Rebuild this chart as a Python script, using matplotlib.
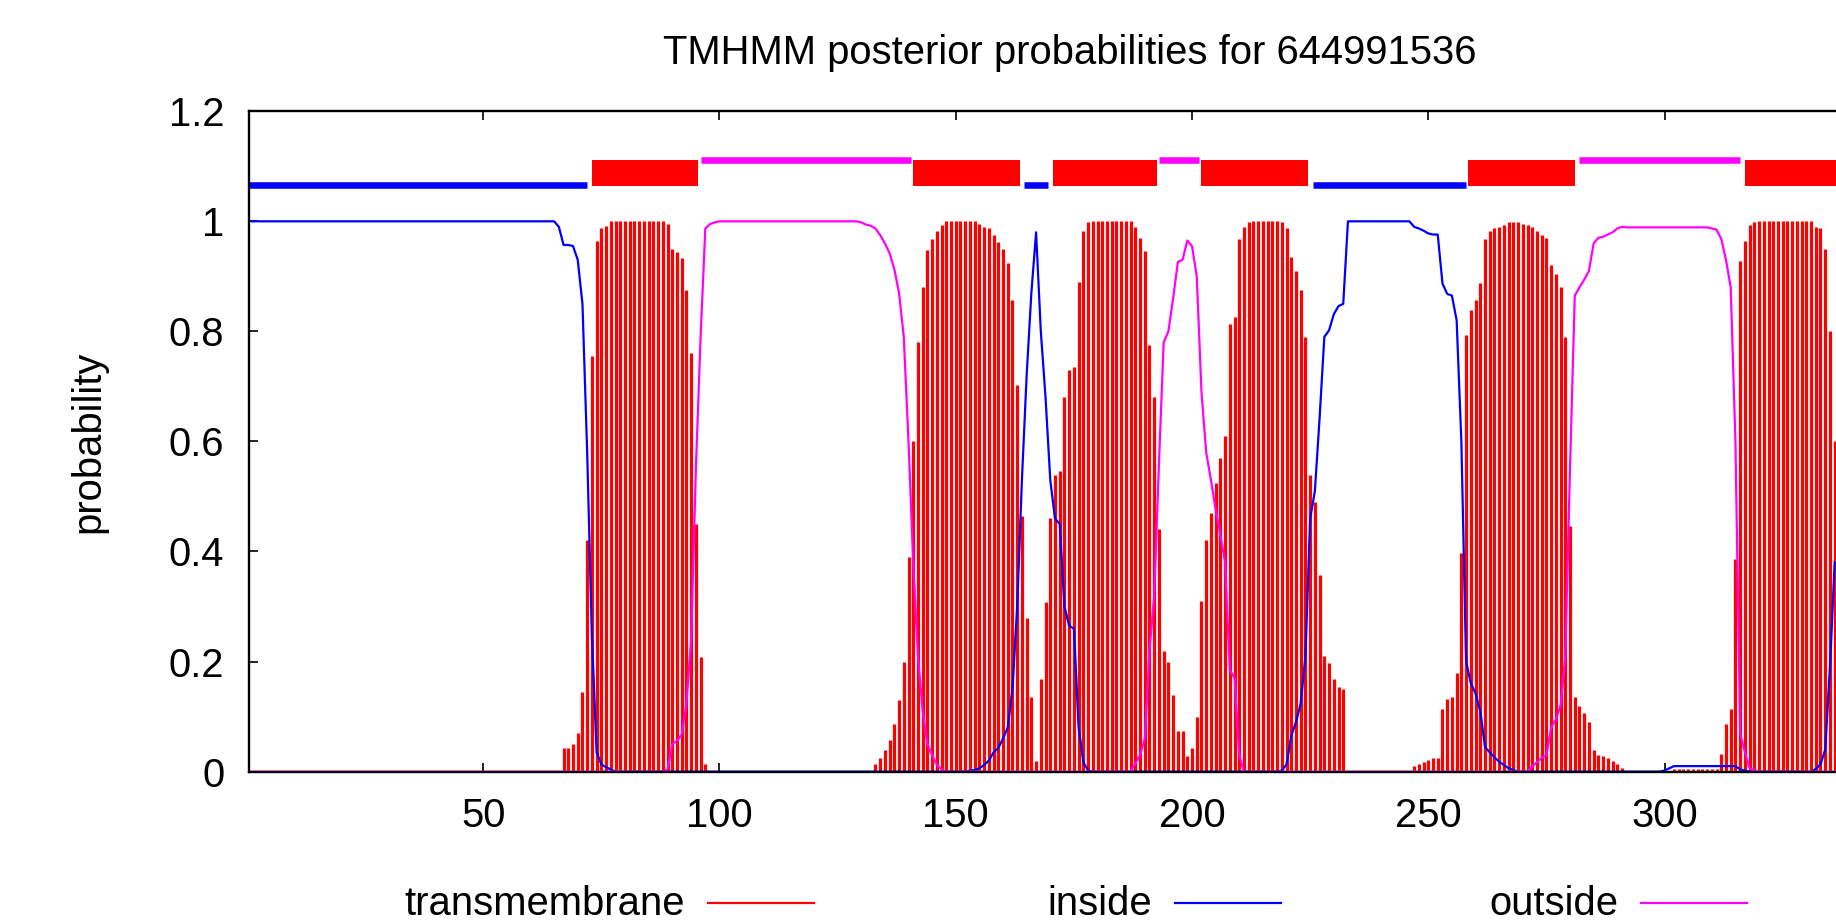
import numpy as np
import matplotlib
matplotlib.use("Agg")
from matplotlib import pyplot as plt
from matplotlib.lines import Line2D
from matplotlib.ticker import FormatStrFormatter

plt.rcParams['font.family'] = ['Liberation Sans', 'DejaVu Sans']

#################################################################################################################################

# Posterior probabilities per residue (1..336 are visible)
tm_prob = ([0.0] * 66
           + [0.043, 0.043, 0.05, 0.07, 0.145, 0.42, 0.755, 0.964, 0.987, 0.992]
           + [1.0] * 12
           + [0.996, 0.95, 0.944, 0.933, 0.876, 0.76, 0.45, 0.208, 0.013]
           + [0.0] * 35
           + [0.013, 0.025, 0.04, 0.058, 0.087, 0.13, 0.2, 0.39, 0.6, 0.78, 0.88, 0.947, 0.967, 0.982, 0.994]
           + [1.0] * 7
           + [0.995, 0.99, 0.987, 0.975, 0.962, 0.95, 0.924, 0.857, 0.702, 0.465, 0.28, 0.135, 0.02]
           + [0.169, 0.309, 0.461, 0.539, 0.546, 0.68, 0.73, 0.735, 0.89, 0.983, 0.998]
           + [1.0] * 9
           + [0.99, 0.97, 0.946, 0.776, 0.68, 0.44, 0.22, 0.2, 0.14, 0.073, 0.073, 0.028, 0.043]
           + [0.1, 0.31, 0.42, 0.47, 0.524, 0.57, 0.61, 0.813, 0.827, 0.968, 0.99, 0.998]
           + [1.0] * 6
           + [0.998, 0.987, 0.935, 0.909, 0.876, 0.79, 0.539, 0.49, 0.357, 0.21, 0.198, 0.169, 0.154, 0.15]
           + [0.0] * 14
           + [0.01, 0.013, 0.017, 0.022, 0.024, 0.024, 0.113, 0.132, 0.135, 0.18, 0.398, 0.794, 0.839, 0.857]
           + [0.887, 0.968, 0.983, 0.987, 0.99, 0.994, 0.998, 0.998, 0.998, 0.996, 0.994, 0.99, 0.983, 0.975,
              0.97, 0.92, 0.905, 0.88, 0.79, 0.446, 0.135, 0.12, 0.106, 0.09, 0.04, 0.03, 0.028, 0.024, 0.02,
              0.013, 0.007]
           + [0.0] * 10
           + [0.004] * 10
           + [0.032, 0.087, 0.113, 0.387, 0.927, 0.964, 0.994, 0.998]
           + [1.0] * 12
           + [0.99, 0.987, 0.95, 0.8, 0.6])

inside_prob = ([1.0] * 65
               + [0.99, 0.957, 0.957, 0.955, 0.93, 0.85, 0.58, 0.245, 0.035, 0.013, 0.008, 0.004]
               + [0.0] * 75
               + [0.002, 0.003, 0.006, 0.012, 0.02, 0.035, 0.043, 0.06, 0.08, 0.15, 0.3, 0.53, 0.72, 0.87, 0.98,
                  0.8, 0.68, 0.53, 0.46, 0.45, 0.3, 0.265, 0.26, 0.08, 0.017, 0.002]
               + [0.0] * 40
               + [0.002, 0.013, 0.065, 0.09, 0.124, 0.21, 0.46, 0.51, 0.643, 0.79, 0.802, 0.831, 0.846, 0.85]
               + [1.0] * 14
               + [0.99, 0.987, 0.983, 0.978, 0.976, 0.976, 0.887, 0.868, 0.865, 0.82, 0.6, 0.2, 0.161, 0.142,
                  0.11, 0.045, 0.035, 0.026, 0.018, 0.012, 0.006, 0.003]
               + [0.0] * 31
               + [0.002, 0.006] + [0.01] * 14 + [0.004, 0.002]
               + [0.0] * 14
               + [0.005, 0.013, 0.04, 0.19, 0.38])

outside_prob = ([0.0] * 88
                + [0.004, 0.05, 0.056, 0.067, 0.124, 0.24, 0.55, 0.79, 0.987, 0.995, 0.998]
                + [1.0] * 30
                + [0.998, 0.994, 0.992, 0.987, 0.975, 0.96, 0.942, 0.913, 0.87, 0.79, 0.6, 0.38, 0.21, 0.11,
                   0.05, 0.03, 0.012, 0.004]
                + [0.0] * 40
                + [0.015, 0.03, 0.06, 0.22, 0.32, 0.56, 0.78, 0.8, 0.86, 0.926, 0.93, 0.965, 0.955, 0.9, 0.69,
                   0.58, 0.53, 0.476, 0.43, 0.38, 0.185, 0.17, 0.03]
                + [0.0] * 61
                + [0.01, 0.017, 0.025, 0.03, 0.08, 0.095, 0.12, 0.21, 0.554, 0.865, 0.88, 0.894, 0.91, 0.96,
                   0.97, 0.972, 0.976, 0.98, 0.987, 0.99]
                + [0.989] * 18
                + [0.987, 0.985]
                + [0.968, 0.93, 0.88, 0.6, 0.07, 0.035, 0.006, 0.002, 0.0]
                + [0.0] * 16)

residues = np.arange(1, len(tm_prob) + 1)

# Predicted topology (start, end)
inside_segs = [(0.5, 72), (164.5, 169.5), (225.5, 258)]
outside_segs = [(96, 140.5), (193, 201.5), (282, 316)]
tm_segs = [(73, 95.5), (141, 163.5), (170.5, 192.5), (202, 224.5), (258.5, 281), (317, 339.5)]

seq_id = '644991536'
x_ticks = [50, 100, 150, 200, 250, 300]
y_ticks = [0, 0.2, 0.4, 0.6, 0.8, 1.0, 1.2]

#################################################################################################################################

red, blue, pink = '#ff0000', '#0000ff', '#ff00ff'
fsize = 28.8

fig = plt.figure(figsize=(18.36, 9.21), dpi=100)
# plot area runs past the right edge of the picture (the screenshot was cropped)
ax = fig.add_axes([0.1358, 0.1622, 0.8941, 0.7170])

ax.vlines(residues, 0, tm_prob, color=red, lw=2.3)
ax.plot(residues, inside_prob, color=blue, lw=1.6)
ax.plot(residues, outside_prob, color=pink, lw=1.6)

# topology bars above the curves
ax.hlines([1.066] * len(inside_segs), [s for s, e in inside_segs], [e for s, e in inside_segs],
          color=blue, lw=4.7, capstyle='butt')
ax.hlines([1.111] * len(outside_segs), [s for s, e in outside_segs], [e for s, e in outside_segs],
          color=pink, lw=4.7, capstyle='butt')
ax.broken_barh([(s, e - s) for s, e in tm_segs], (1.064, 0.048), facecolors=red)

ax.set_xlim(0.5, 347.9)
ax.set_ylim(0, 1.2)
ax.set_xticks(x_ticks)
ax.set_yticks(y_ticks)
ax.yaxis.set_major_formatter(FormatStrFormatter('%g'))
ax.tick_params(direction='in', length=6.5, width=1.2, top=True, right=True, labelsize=fsize, pad=18)
for sp in ax.spines.values():
    sp.set_linewidth(1.7)

fig.text(0.5828, 0.9305, 'TMHMM posterior probabilities for ' + seq_id, ha='center', va='baseline', fontsize=fsize)
fig.text(0.0479, 0.5207, 'probability', rotation=90, ha='center', va='center', fontsize=fsize)

# gnuplot style key: right aligned text followed by sample line
key_labels = ['transmembrane', 'inside', 'outside']
key_colors = [red, blue, pink]
key_text_x = [685, 1152, 1618]
for lab, col, tx in zip(key_labels, key_colors, key_text_x):
    fig.text(tx / 1836, 1 - 915 / 921, lab, ha='right', va='baseline', fontsize=fsize)
    fig.add_artist(Line2D([(tx + 23) / 1836, (tx + 129) / 1836], [1 - 903 / 921] * 2, color=col, lw=1.6))

plt.savefig('out.png', dpi=100)
